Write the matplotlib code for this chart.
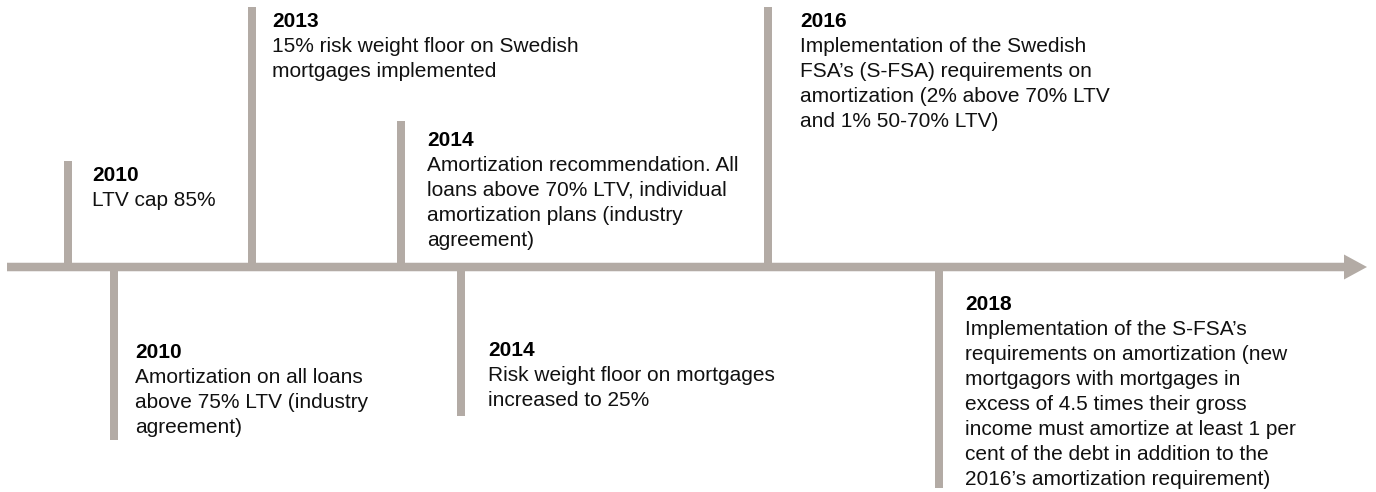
import matplotlib
matplotlib.use("Agg")
import matplotlib.pyplot as plt
from matplotlib.patches import FancyArrow

plt.rcParams['font.family'] = ['Liberation Sans', 'DejaVu Sans']

# events on the timeline
years = ['2010', '2010', '2013', '2014', '2014', '2016', '2018']
texts = [
    'LTV cap 85%',
    'Amortization on all loans\nabove 75% LTV (industry\nagreement)',
    '15% risk weight floor on Swedish\nmortgages implemented',
    'Amortization recommendation. All\nloans above 70% LTV, individual\namortization plans (industry\nagreement)',
    'Risk weight floor on mortgages\nincreased to 25%',
    'Implementation of the Swedish\nFSA\u2019s (S-FSA) requirements on\namortization (2% above 70% LTV\nand 1% 50-70% LTV)',
    'Implementation of the S-FSA\u2019s\nrequirements on amortization (new\nmortgagors with mortgages in\nexcess of 4.5 times their gross\nincome must amortize at least 1 per\ncent of the debt in addition to the\n2016\u2019s amortization requirement)',
]

# layout (pixel space, y down)
stem_x = [68, 114, 252, 401, 461, 768, 939]
stem_end = [161, 440, 7, 121, 416, 7, 488]
text_x = [92, 135, 272, 427, 488, 800, 965]
year_base = [181, 358, 27, 146, 356, 27, 310]
axis_y = 267
line_gap = 25
line_col = '#b3aba5'
fs = 15

fig = plt.figure(figsize=(13.76, 4.92), dpi=100)
ax = fig.add_axes([0, 0, 1, 1])
ax.set_xlim(0, 1376)
ax.set_ylim(492, 0)
ax.axis('off')

ax.add_patch(FancyArrow(7, axis_y, 1367 - 7, 0, width=8.5, head_width=25, head_length=23,
                        length_includes_head=True, color=line_col, lw=0))

for x, end, tx, yb, yr, txt in zip(stem_x, stem_end, text_x, year_base, years, texts):
    ax.plot([x, x], [axis_y, end], color=line_col, lw=5.76, solid_capstyle='butt')
    ax.text(tx, yb, yr, fontsize=fs, fontweight='bold', va='baseline', ha='left', color='black')
    for i, line in enumerate(txt.split('\n')):
        ax.text(tx, yb + line_gap * (i + 1), line, fontsize=fs, va='baseline', ha='left',
                color='#111111')

fig.savefig('out.png', dpi=100)
